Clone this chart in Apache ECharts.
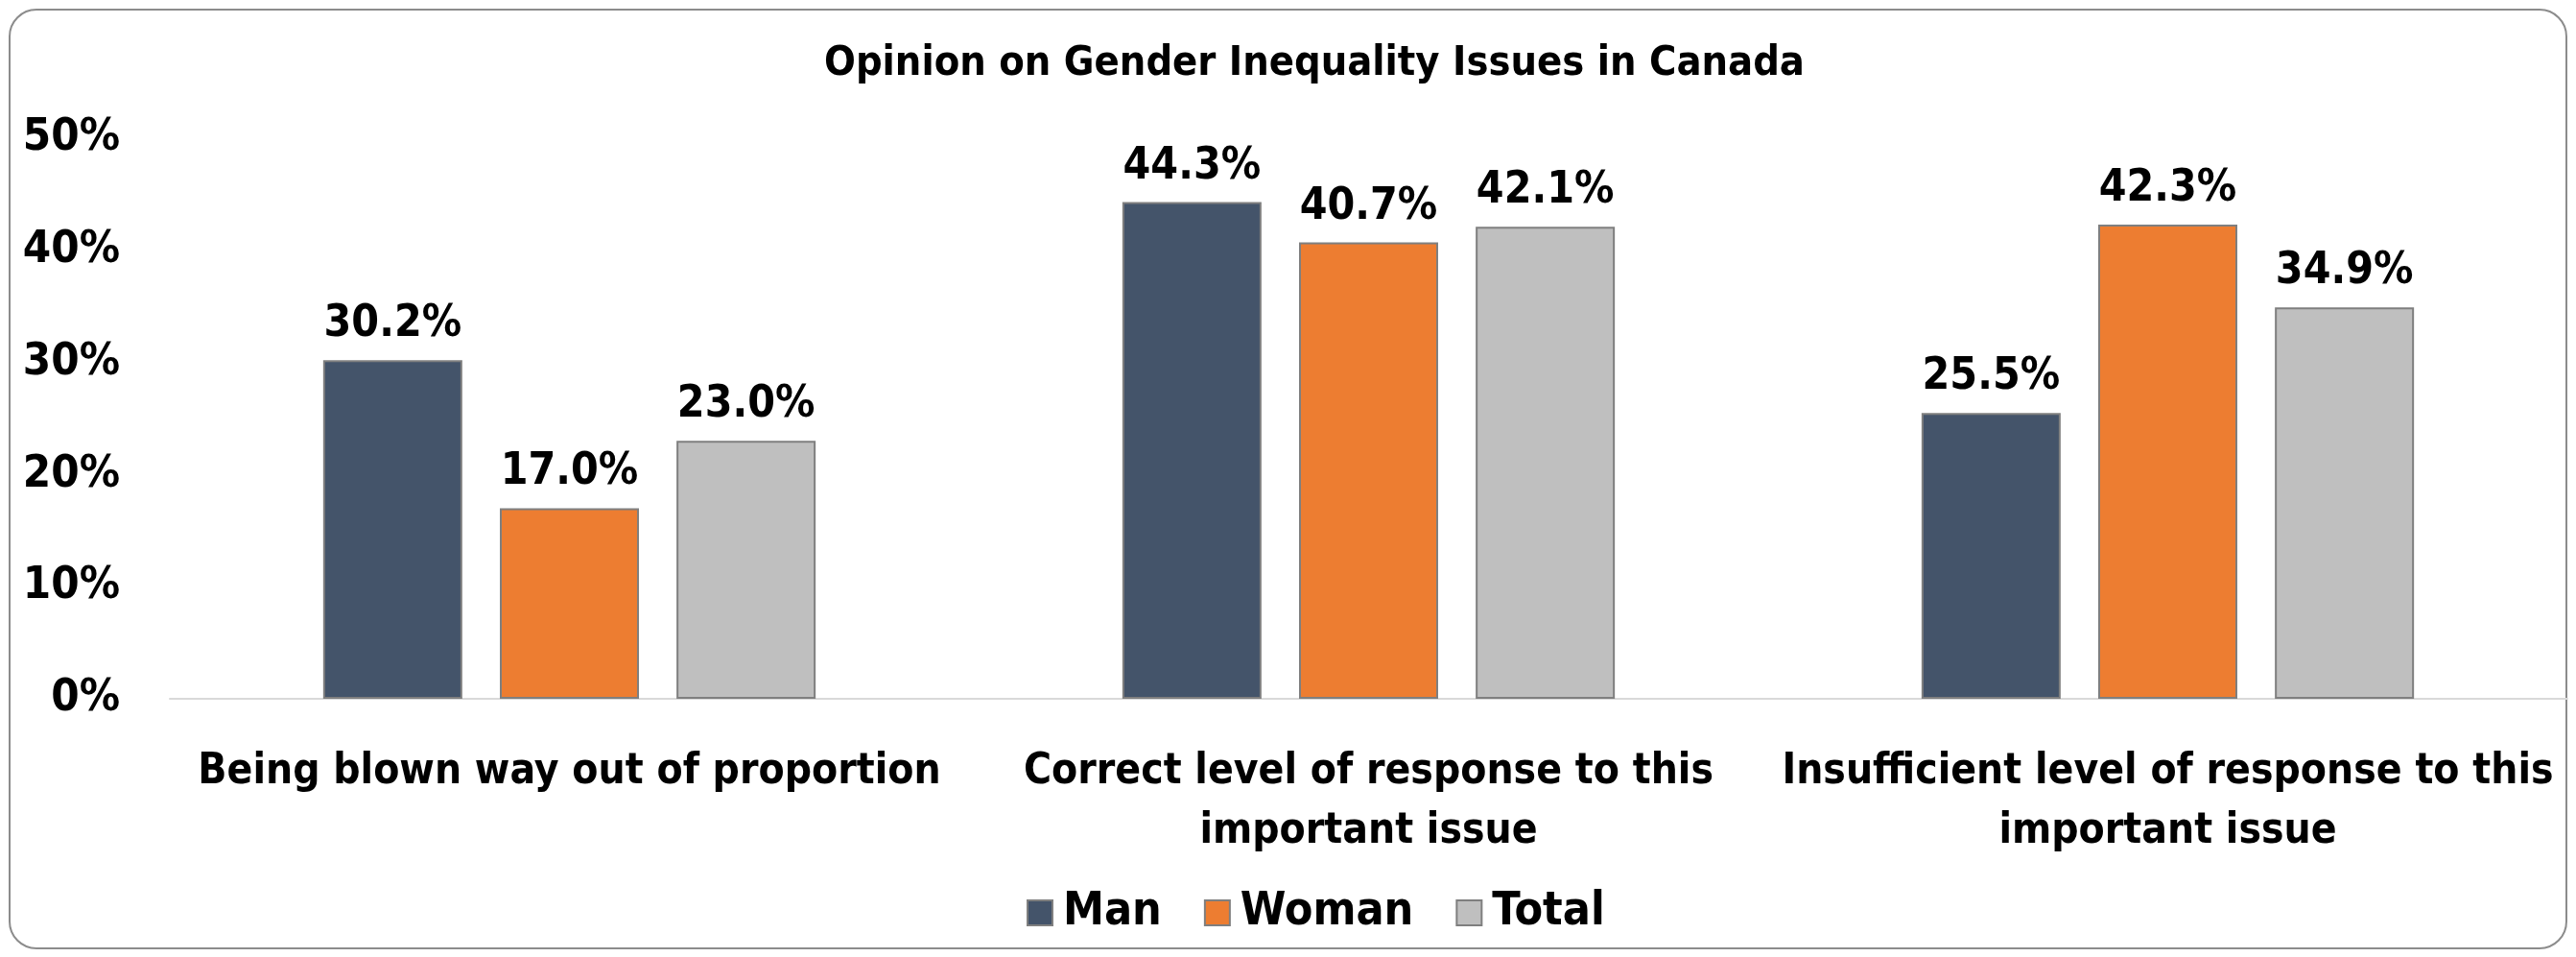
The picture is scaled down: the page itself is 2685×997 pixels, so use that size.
<!DOCTYPE html>
<html>
<head>
<meta charset="utf-8">
<script src="https://cdn.jsdelivr.net/npm/echarts@6/dist/echarts.min.js"></script>
<style>
html,body{margin:0;padding:0;background:#fff;}
#chart{width:2685px;height:997px;}
</style>
</head>
<body>
<div id="chart"></div>
<script>
const categories = [
  'Being blown way out of proportion',
  'Correct level of response to this\nimportant issue',
  'Insufficient level of response to this\nimportant issue'
];
const manValues = [30.2, 44.3, 25.5];
const womanValues = [17.0, 40.7, 42.3];
const totalValues = [23.0, 42.1, 34.9];
const seriesNames = ['Man', 'Woman', 'Total'];
const yTicks = [0, 10, 20, 30, 40, 50];

const FONT = "'Liberation Sans Narrow', 'DejaVu Sans Condensed', 'Open Sans', sans-serif";
const colors = ['#44546A', '#ED7D31', '#BFBFBF'];

const chart = echarts.init(document.getElementById('chart'), null, {renderer: 'canvas'});

function mkSeries(name, data, color) {
  return {
    name: name,
    type: 'bar',
    data: data,
    barWidth: 145,
    barGap: '27%',
    itemStyle: {color: color, borderColor: '#7F7F7F', borderWidth: 2},
    label: {
      show: true,
      position: 'top',
      distance: 14,
      formatter: p => p.value.toFixed(1) + '%',
      fontFamily: FONT,
      fontWeight: 'bold',
      fontSize: 46,
      color: '#000'
    }
  };
}

chart.setOption({
  animation: false,
  backgroundColor: '#fff',
  graphic: [{
    type: 'rect',
    shape: {x: 10, y: 10, width: 2665, height: 978, r: 28},
    style: {fill: 'none', stroke: '#8C8C8C', lineWidth: 2},
    silent: true
  }],
  title: {
    text: 'Opinion on Gender Inequality Issues in Canada',
    left: 1365,
    top: 40,
    textAlign: 'center',
    textStyle: {fontFamily: FONT, fontWeight: 'bold', fontSize: 43, color: '#000'}
  },
  legend: {
    data: seriesNames,
    left: 1065,
    top: 922,
    itemWidth: 26,
    itemHeight: 26,
    itemGap: 44,
    icon: 'rect',
    textStyle: {fontFamily: FONT, fontWeight: 'bold', fontSize: 48, color: '#000', padding: [0, 0, 0, 6]}
  },
  grid: {left: 177, right: 9, top: 144, bottom: 269, outerBoundsMode: 'none', containLabel: false},
  xAxis: {
    type: 'category',
    data: categories,
    axisLine: {lineStyle: {color: '#D9D9D9', width: 2}},
    axisTick: {show: false},
    axisLabel: {
      interval: 0,
      margin: 46,
      fontFamily: FONT,
      fontWeight: 'bold',
      fontSize: 44,
      lineHeight: 62,
      color: '#000'
    }
  },
  yAxis: {
    type: 'value',
    min: 0,
    max: 50,
    interval: 10,
    axisLine: {show: false},
    axisTick: {show: false},
    splitLine: {show: false},
    axisLabel: {
      margin: 52,
      formatter: v => yTicks.includes(v) ? v + '%' : '',
      fontFamily: FONT,
      fontWeight: 'bold',
      fontSize: 47,
      color: '#000'
    }
  },
  series: [
    mkSeries(seriesNames[0], manValues, colors[0]),
    mkSeries(seriesNames[1], womanValues, colors[1]),
    mkSeries(seriesNames[2], totalValues, colors[2])
  ]
});
</script>
</body>
</html>
